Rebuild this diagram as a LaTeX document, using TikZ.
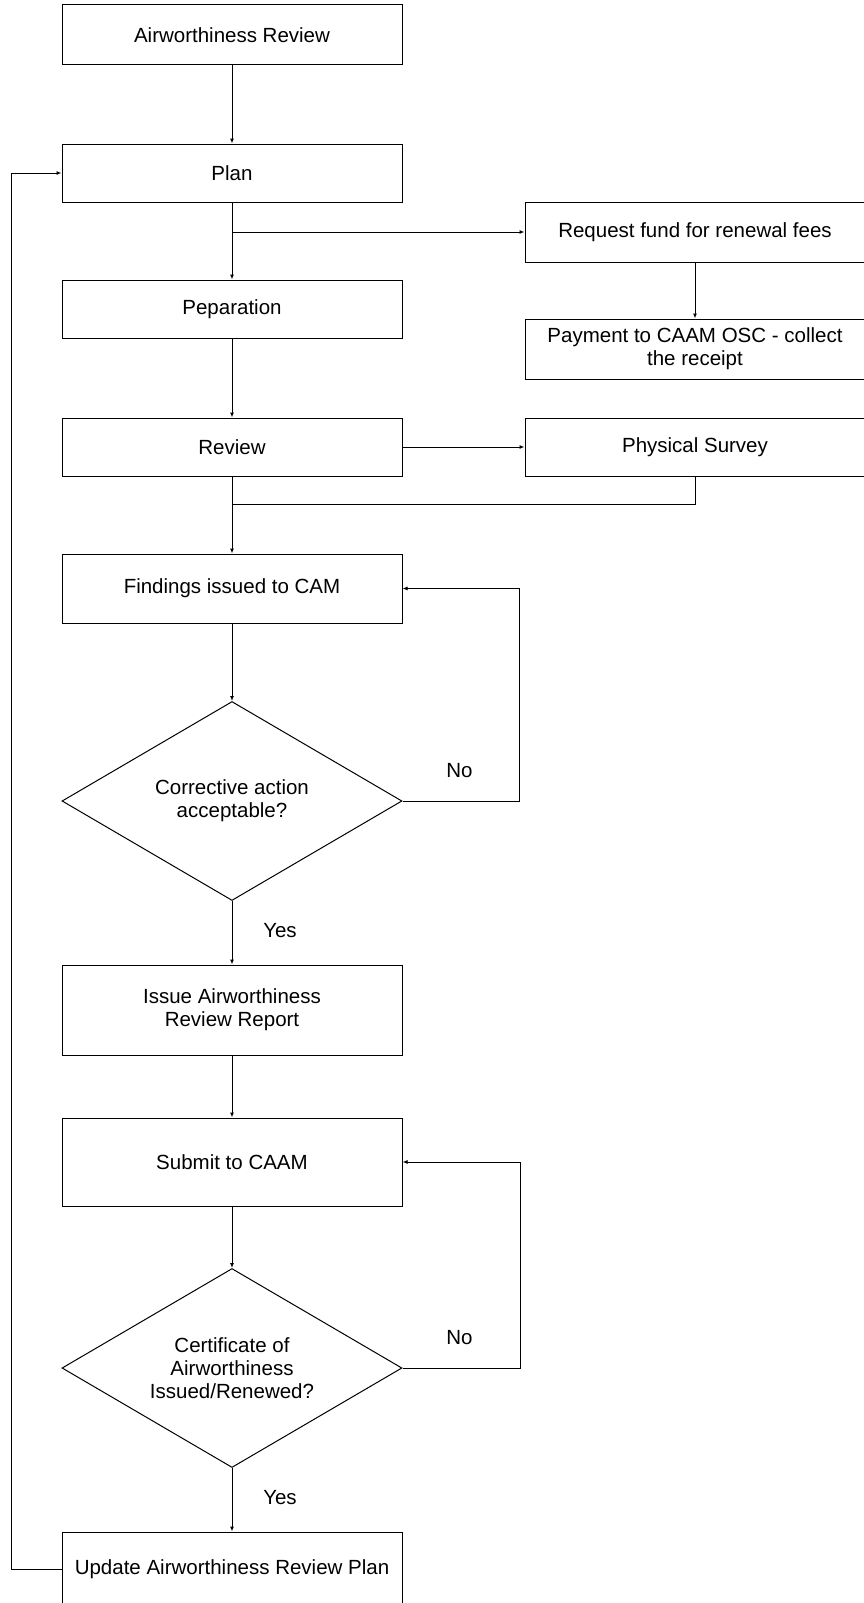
\documentclass[tikz,border=0pt]{standalone}
\usepackage{fontspec}
\setmainfont{Liberation Sans}
\usetikzlibrary{
	arrows.meta,
	calc,
	shapes.geometric
}

\tikzset{
	block/.style={draw, line width=1pt, minimum width=340pt, minimum height=58pt, inner sep=0pt, align=center, font=\fontsize{20.5}{23}\selectfont},
	decision/.style={draw, diamond, aspect=1.7, line width=1pt, minimum width=340pt, minimum height=199pt, inner sep=0pt, align=center, font=\fontsize{20.5}{23}\selectfont},
	flow/.style={line width=1pt, -{Latex[length=5pt,width=4pt]}},
	answer/.style={inner sep=0pt, font=\fontsize{20.5}{23}\selectfont}
}

\begin{document}
\begin{tikzpicture}[x=1pt, y=-1pt]

		\useasboundingbox (0,0) rectangle (864,1603);
		\clip (0,0) rectangle (864,1603);

		% main column
		\node[block, minimum height=60pt] (start) at (232,35) {Airworthiness Review};
		\node[block] (plan) at (232,173) {Plan};
		\node[block] (prep) at (232,309) {Peparation};
		\node[block] (review) at (232,447) {Review};
		\node[block, minimum height=69pt] (findings) at (232,588.5) {Findings issued to CAM};
		\node[decision] (accept) at (232,801) {Corrective action\\acceptable?};
		\node[block, minimum height=90pt] (report) at (232,1010) {Issue Airworthiness\\Review Report};
		\node[block, minimum height=88pt] (submit) at (232,1162) {Submit to CAAM};
		\node[decision] (coa) at (232,1368) {Certificate of\\Airworthiness\\Issued/Renewed?};
		\node[block, minimum height=74pt] (update) at (232,1569) {Update Airworthiness Review Plan};

		% side column
		\node[block, minimum height=60pt] (fund) at (695,232) {Request fund for renewal fees};
		\node[block, minimum height=60pt] (pay) at (695,349) {Payment to CAAM OSC - collect\\the receipt};
		\node[block] (survey) at (695,447) {Physical Survey};

		\coordinate (split) at (plan.south |- fund.west);
		\coordinate (merge) at ($(review.south)+(0,28)$);

		\draw[flow] (start) -- (plan);
		\draw[flow] (plan) -- (prep);
		\draw[flow] (split) -- (fund);
		\draw[flow] (fund) -- (pay);
		\draw[flow] (prep) -- (review);
		\draw[flow] (review) -- (survey);
		\draw[flow] (review) -- (findings);
		\draw[line width=1pt] (survey.south) |- (merge);
		\draw[flow] (findings) -- (accept);

		\draw[flow] (accept.east) --++ (117,0) |- (findings.east);
		\node[answer] (no1) at ($(accept.east)+(57,-30)$) {No};
		\draw[flow] (accept) -- node[answer, xshift=48pt, yshift=2pt] (yes1) {Yes} (report);

		\draw[flow] (report) -- (submit);
		\draw[flow] (submit) -- (coa);

		\draw[flow] (coa.east) --++ (118,0) |- (submit.east);
		\node[answer] (no2) at ($(coa.east)+(57,-30)$) {No};
		\draw[flow] (coa) -- node[answer, xshift=48pt, yshift=2pt] (yes2) {Yes} (update);

		\draw[flow] (update.west) --++ (-50,0) |- (plan.west);

	\end{tikzpicture}
\end{document}
